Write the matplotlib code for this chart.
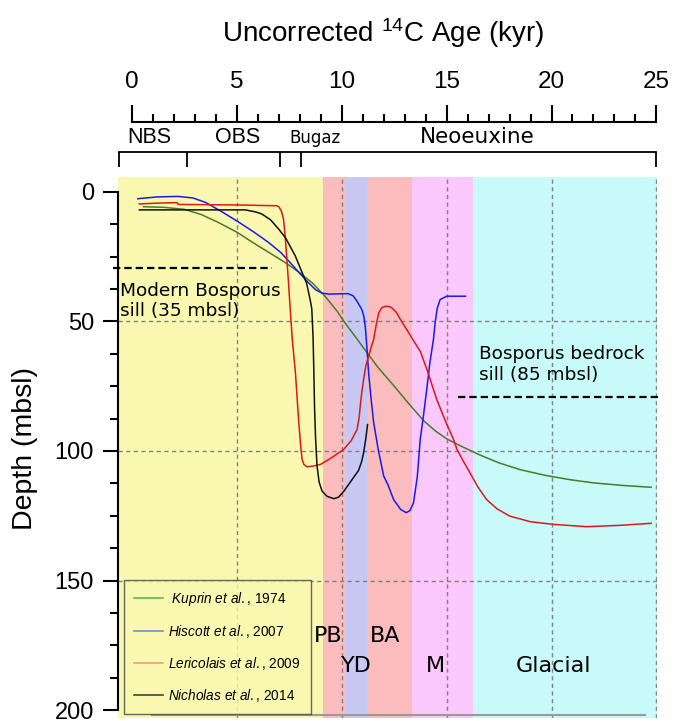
import matplotlib
matplotlib.use('Agg')
import matplotlib.pyplot as plt
from matplotlib import font_manager
from matplotlib.lines import Line2D
from matplotlib.ticker import MultipleLocator, FixedLocator

# ---------------- data ----------------
kuprin_age = [0.55, 1.5, 2.5, 3.3, 4.1, 5.0, 5.7, 6.5, 7.3, 8.0, 8.6, 9.2, 9.8, 10.1, 10.7,
              11.2, 11.7, 12.5, 13.2, 13.9, 14.5, 15.0, 15.6, 16.1, 16.6, 17.5, 18.5, 19.7,
              20.9, 22.0, 23.4, 24.75]
kuprin_depth = [5.8, 6.0, 6.8, 8.8, 11.8, 15.6, 19.3, 23.3, 27.3, 31.3, 35.2, 40.3, 46.3, 50.0,
                56.5, 62.0, 67.5, 75.0, 81.8, 88.3, 92.5, 95.3, 97.8, 99.7, 101.6, 104.6, 107.2,
                109.4, 111.1, 112.3, 113.3, 114.0]

hiscott_age = [0.27, 1.2, 2.2, 2.9, 3.5, 4.3, 5.1, 5.8, 6.5, 7.1, 7.6, 8.0, 8.4, 8.75, 9.05,
               9.4, 9.84, 10.3, 10.55, 10.73, 10.96, 11.05, 11.12, 11.17, 11.28, 11.4, 11.52,
               11.75, 12.0, 12.2, 12.47, 12.8, 13.07, 13.25, 13.42, 13.6, 13.74, 13.9, 14.05,
               14.2, 14.37, 14.45, 14.55, 14.69, 15.0, 15.9]
hiscott_depth = [2.7, 2.0, 1.8, 2.4, 4.1, 7.8, 11.8, 15.5, 19.5, 23.5, 27.9, 31.5, 35.0, 37.8,
                 39.1, 39.5, 39.4, 39.3, 40.2, 42.3, 45.5, 48.0, 52.0, 57.0, 69.9, 80.0, 89.0,
                 100.0, 109.7, 113.0, 118.7, 122.5, 123.8, 123.0, 120.0, 110.0, 95.6, 86.0, 76.3,
                 66.0, 57.0, 50.6, 45.0, 41.6, 40.3, 40.3]

lericolais_age = [0.35, 1.2, 2.15, 2.2, 3.5, 5.0, 6.2, 6.9, 7.0, 7.12, 7.22, 7.3, 7.38, 7.46,
                  7.54, 7.64, 7.79, 7.95, 8.05, 8.11, 8.2, 8.35, 8.65, 8.98, 9.5, 10.09, 10.45,
                  10.73, 10.83, 10.88, 10.96, 11.04, 11.15, 11.28, 11.4, 11.52, 11.65, 11.76,
                  11.9, 12.07, 12.25, 12.39, 12.6, 12.85, 13.2, 13.5, 13.74, 14.1, 14.53, 14.97,
                  15.3, 15.5, 15.8, 16.11, 16.5, 16.9, 17.4, 18.0, 19.0, 20.07, 21.66, 23.24,
                  24.75]
lericolais_depth = [4.7, 4.4, 4.2, 4.9, 5.0, 5.1, 5.3, 5.4, 5.8, 7.5, 10.5, 17.0, 25.9, 35.0,
                    45.2, 57.0, 69.8, 89.1, 99.0, 103.3, 105.3, 106.1, 105.8, 105.2, 102.7, 99.4,
                    96.0, 91.7, 87.0, 82.7, 77.0, 72.4, 67.0, 63.5, 60.0, 57.0, 51.0, 46.8, 44.8,
                    44.2, 44.3, 44.8, 46.5, 50.0, 54.5, 58.5, 61.5, 69.5, 80.2, 89.0, 95.0, 99.5,
                    104.0, 108.4, 114.0, 118.7, 122.3, 125.1, 127.3, 128.3, 129.2, 128.7, 127.9]

nicholas_age = [0.35, 2.0, 4.0, 5.4, 5.9, 6.19, 6.6, 6.99, 7.32, 7.78, 8.05, 8.33, 8.5, 8.57,
                8.63, 8.67, 8.7, 8.75, 8.82, 8.92, 9.06, 9.3, 9.62, 9.85, 10.1, 10.45, 10.8,
                10.95, 11.04, 11.15, 11.23]
nicholas_depth = [7.0, 7.0, 7.0, 7.0, 7.8, 8.6, 10.8, 14.4, 17.8, 24.7, 30.0, 35.5, 42.0, 45.2,
                  55.8, 70.0, 82.7, 95.0, 105.8, 112.0, 115.5, 117.5, 118.4, 117.8, 115.5, 111.5,
                  107.5, 104.0, 100.7, 95.0, 89.8]

series_labels = [r' $\mathit{Kuprin\ et\ al.}$, 1974',
                 r'$\mathit{Hiscott\ et\ al.}$, 2007',
                 r'$\mathit{Lericolais\ et\ al.}$, 2009',
                 r'$\mathit{Nicholas\ et\ al.}$, 2014']
line_colors = ['#4a7a2c', '#1a1aee', '#dd1818', '#111111']
legend_colors = ['#4fb04f', '#5a8ad2', '#f5926e', '#333333']

band_edges = [-0.67, 9.1, 10.15, 11.2, 13.35, 16.25, 25.03]
band_colors = ['#faf8b0', '#fabcbc', '#c8c8f5', '#fabcbc', '#fac8fa', '#c8fafa']
band_labels = ['PB', 'YD', 'BA', 'M', 'Glacial']
band_label_x = [9.37, 10.71, 12.09, 14.47, 20.1]
band_label_y = [173.6, 185.1, 173.6, 185.1, 185.1]

stage_edges = [-0.62, 2.6, 7.04, 8.04, 25.0]
stage_labels = ['NBS', 'OBS', 'Bugaz', 'Neoeuxine']
stage_label_x = [0.80, 5.05, 8.72, 16.45]

modern_sill_depth = 29.5
modern_sill_x = [-0.9, 6.67]
bedrock_sill_depth = 79.3
bedrock_sill_x = [15.54, 25.26]

age_ticks = [0, 5, 10, 15, 20, 25]
depth_ticks = [0, 50, 100, 150, 200]
grid_age = [5, 10, 15, 20, 25]
grid_depth = [50, 100, 150]

# ---------------- fonts ----------------
names = {f.name for f in font_manager.fontManager.ttflist}
if 'Liberation Sans Narrow' in names:
    leg_font, leg_size = 'Liberation Sans Narrow', 11
else:
    leg_font, leg_size = 'Liberation Sans', 9.8
plt.rcParams['mathtext.fontset'] = 'custom'
plt.rcParams['mathtext.rm'] = 'Liberation Sans'
plt.rcParams['mathtext.it'] = leg_font + ':italic'

W, H = 674, 721
fig = plt.figure(figsize=(W / 100, H / 100), dpi=100)


def fx(px):
    return px / W


def fy(py):
    return 1 - py / H


# ---------------- main axes ----------------
ax = fig.add_axes([fx(118), fy(718), fx(657) - fx(118), fy(176.7) - fy(718)])
ax.set_xlim(-0.67, 25.03)
ax.set_ylim(203, -5.8)

for i, c in enumerate(band_colors):
    ax.axvspan(band_edges[i], band_edges[i + 1], color=c, lw=0, zorder=0)

for g in grid_age:
    ax.axvline(g, color='#777777', lw=1.0, ls=(0, (3, 2.5)), zorder=1, alpha=0.9)
for g in grid_depth:
    ax.axhline(g, color='#777777', lw=1.0, ls=(0, (3, 2.5)), zorder=1, alpha=0.9)

ax.plot(kuprin_age, kuprin_depth, color=line_colors[0], lw=1.1, zorder=3)
ax.plot(hiscott_age, hiscott_depth, color=line_colors[1], lw=1.1, zorder=3)
ax.plot(lericolais_age, lericolais_depth, color=line_colors[2], lw=1.1, zorder=3)
ax.plot(nicholas_age, nicholas_depth, color=line_colors[3], lw=1.1, zorder=3)

ax.plot(modern_sill_x, [modern_sill_depth] * 2, color='k', lw=1.6, ls=(0, (3.3, 1.8)),
        clip_on=False, zorder=4)
ax.plot(bedrock_sill_x, [bedrock_sill_depth] * 2, color='k', lw=1.6, ls=(0, (3.3, 1.8)),
        clip_on=False, zorder=4)

sill_fs = 13.3
ax.text(-0.57, 40.1, 'Modern Bosporus', fontsize=sill_fs, va='baseline', ha='left', zorder=5)
ax.text(-0.57, 47.8, 'sill (35 mbsl)', fontsize=sill_fs, va='baseline', ha='left', zorder=5)
ax.text(16.54, 64.7, 'Bosporus bedrock', fontsize=sill_fs, va='baseline', ha='left', zorder=5)
ax.text(16.54, 72.8, 'sill (85 mbsl)', fontsize=sill_fs, va='baseline', ha='left', zorder=5)

for lab, x, y in zip(band_labels, band_label_x, band_label_y):
    ax.text(x, y, lab, fontsize=16, ha='center', va='baseline', zorder=5)

# bottom grey rule
ax.plot([0.95, 24.45], [202.0, 202.0], color='#9a9a9a', lw=1.5, clip_on=False, zorder=4)

for s in ['top', 'right', 'bottom']:
    ax.spines[s].set_visible(False)
ax.spines['left'].set_bounds(0, 200)
ax.spines['left'].set_linewidth(1.5)
ax.set_xticks([])
ax.yaxis.set_major_locator(FixedLocator(depth_ticks))
ax.yaxis.set_minor_locator(MultipleLocator(12.5))
ax.tick_params(axis='y', which='major', length=10.8, width=1.5, labelsize=17, pad=6.5)
ax.tick_params(axis='y', which='minor', length=6, width=1.5)
for t in ax.get_yticklabels():
    t.set_fontfamily('Liberation Sans')

handles = [Line2D([], [], color=c, lw=1.1) for c in legend_colors]
leg = ax.legend(handles, series_labels, loc='lower left', bbox_to_anchor=(0.0111, 0.0068),
                borderaxespad=0, prop={'family': leg_font, 'size': leg_size},
                handlelength=2.1, handletextpad=0.4, labelspacing=1.1,
                borderpad=0.75, fancybox=False, frameon=True)
leg.get_frame().set_facecolor('#faf8b0')
leg.get_frame().set_alpha(0.8)
leg.get_frame().set_edgecolor('#444444')
leg.get_frame().set_linewidth(1.0)
leg.set_zorder(6)

# ---------------- header axes (age axis + stages) ----------------
hx = fig.add_axes([fx(118), fy(176), fx(657) - fx(118), fy(121.7) - fy(176)])
hx.set_xlim(-0.67, 25.03)
hx.set_ylim(176, 121.7)
hx.patch.set_visible(False)
for s in ['left', 'right', 'bottom']:
    hx.spines[s].set_visible(False)
hx.spines['top'].set_bounds(0, 25)
hx.spines['top'].set_linewidth(1.5)
hx.yaxis.set_visible(False)
hx.xaxis.set_ticks_position('top')
hx.xaxis.set_major_locator(FixedLocator(age_ticks))
hx.xaxis.set_minor_locator(MultipleLocator(1))
hx.tick_params(axis='x', which='major', direction='out', length=12, width=1.5, labelsize=17.5,
               pad=8.5, top=True, bottom=False, labeltop=True, labelbottom=False)
hx.tick_params(axis='x', which='minor', direction='out', length=6, width=1.5, top=True,
               bottom=False)
for t in hx.get_xticklabels():
    t.set_fontfamily('Liberation Sans')

hx.plot([stage_edges[0], stage_edges[-1]], [151.7, 151.7], color='k', lw=1.3, clip_on=False)
hx.vlines(stage_edges, 151.7, 166.7, color='k', lw=1.3, clip_on=False)
stage_fonts = ['Liberation Sans', 'Liberation Sans', 'DejaVu Sans', 'DejaVu Sans']
stage_sizes = [15.5, 15.5, 12, 15.5]
for lab, x, f, s in zip(stage_labels, stage_label_x, stage_fonts, stage_sizes):
    hx.text(x, 143.3, lab, ha='center', va='baseline', family=f, fontsize=s)

fig.text(fx(383.5), fy(41.7), r'Uncorrected $^{14}$C Age (kyr)', ha='center', va='baseline',
         fontsize=20, family='Liberation Sans')
fig.text(fx(25), fy(449), 'Depth (mbsl)', rotation=90, ha='center', va='center',
         fontsize=20.5, family='Liberation Sans')

fig.savefig('out.png', dpi=100)
